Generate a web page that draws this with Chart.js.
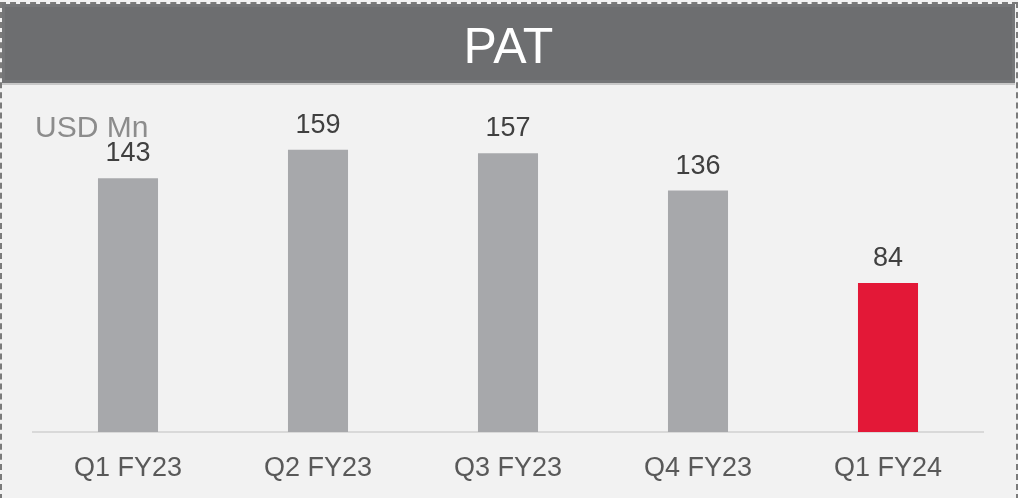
<!DOCTYPE html>
<html>
<head>
<meta charset="utf-8">
<script src="https://cdn.jsdelivr.net/npm/chart.js@4/dist/chart.umd.min.js"></script>
<style>
  html, body { margin: 0; padding: 0; background: #f2f2f2; }
  #wrap { position: relative; width: 1018px; height: 498px; overflow: hidden; background: #f2f2f2; font-family: "Liberation Sans", Arial, sans-serif; }
  #c { position: absolute; left: 0; top: 0; }
  #border { position: absolute; left: 0; top: 2px; width: 1014px; height: 494px; border: 2px dashed #7b7b7b; box-sizing: content-box; pointer-events: none; }
  #titlebar { position: absolute; left: 2px; top: 4px; width: 1013px; height: 79px; background: #6d6e70; border-bottom: 2px solid #c9c9c9;
    box-shadow: inset 0 3px 0 #747577, inset 0 -3px 0 #747577, inset 3px 0 0 #747577, inset -3px 0 0 #747577; }
  #title { position: absolute; left: 0; width: 100%; top: 13px; text-align: center; color: #ffffff; font-size: 50px; line-height: 58px; }
  #unit { position: absolute; left: 35px; top: 109px; color: #8c8c8c; font-size: 30px; line-height: 36px; }
</style>
</head>
<body>
<div id="wrap">
  <canvas id="c" width="1018" height="498"></canvas>
  <div id="titlebar"><div id="title">PAT</div></div>
  <div id="unit">USD Mn</div>
  <div id="border"></div>
</div>
<script>
const categories = ["Q1 FY23", "Q2 FY23", "Q3 FY23", "Q4 FY23", "Q1 FY24"];
const patValues = [143, 159, 157, 136, 84];
const barColors = ["#a7a8ab", "#a7a8ab", "#a7a8ab", "#a7a8ab", "#e31837"];

const valueLabels = {
  id: "valueLabels",
  afterDatasetsDraw(chart) {
    const ctx = chart.ctx;
    const meta = chart.getDatasetMeta(0);
    ctx.save();
    ctx.font = '27px "Liberation Sans", Arial, sans-serif';
    ctx.fillStyle = "#404040";
    ctx.textAlign = "center";
    ctx.textBaseline = "alphabetic";
    meta.data.forEach((bar, i) => {
      ctx.fillText(String(chart.data.datasets[0].data[i]), bar.x, bar.y - 17);
    });
    ctx.restore();
  }
};

new Chart(document.getElementById("c"), {
  type: "bar",
  data: {
    labels: categories,
    datasets: [{
      label: "PAT",
      data: patValues,
      backgroundColor: barColors,
      borderWidth: 0,
      barPercentage: 0.316,
      categoryPercentage: 1.0
    }]
  },
  options: {
    responsive: false,
    animation: false,
    layout: { padding: { left: 33, right: 35, top: 77, bottom: 0 } },
    plugins: { legend: { display: false }, tooltip: { enabled: false }, title: { display: false } },
    scales: {
      x: {
        grid: { display: false, drawTicks: false },
        border: { display: true, color: "#d9d9d9", width: 2 },
        ticks: { color: "#595959", font: { family: '"Liberation Sans", Arial, sans-serif', size: 27 }, padding: 20, maxRotation: 0 },
        afterFit(scale) { scale.height = 66; }
      },
      y: {
        display: false,
        min: 0,
        max: 200
      }
    }
  },
  plugins: [valueLabels]
});
</script>
</body>
</html>
